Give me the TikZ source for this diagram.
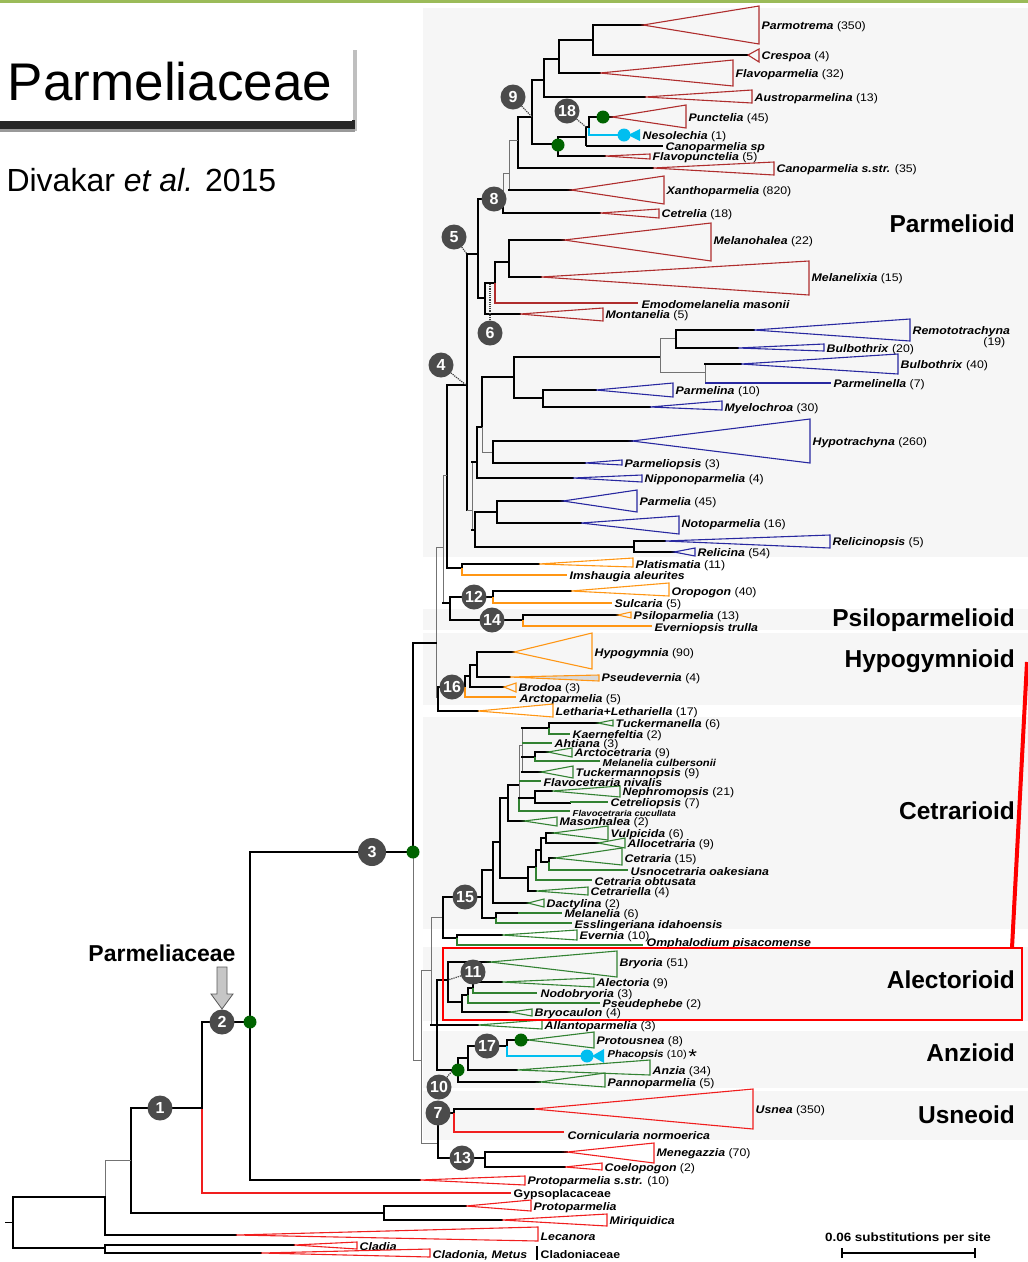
\documentclass[tikz,border=0pt]{standalone}
\usepackage{fontspec}
\setmainfont{Liberation Sans}
\newfontfamily\taxfont{Liberation Sans}[FakeStretch=1.12]

\definecolor{parmred}{RGB}{175,45,45}
\definecolor{usnred}{RGB}{240,30,30}
\definecolor{parmblue}{RGB}{40,40,160}
\definecolor{parmorange}{RGB}{255,150,20}
\definecolor{parmgreen}{RGB}{50,130,50}
\definecolor{dotgreen}{RGB}{0,100,0}
\definecolor{nescyan}{RGB}{0,190,240}
\definecolor{nodegray}{RGB}{75,75,75}
\definecolor{bandgray}{RGB}{246,246,246}
\definecolor{topline}{RGB}{155,187,89}

\tikzset{
  br/.style={line width=2.8pt, line cap=rect},
  thinbr/.style={line width=1pt, black!55},
  tri/.style={line width=1.1pt, line join=miter},
  tipl/.style={line width=1.1pt},
  lab/.style={anchor=west, inner sep=0.5pt, yshift=-2pt, font=\taxfont\fontsize{11}{12}\selectfont},
  smalllab/.style={lab, font=\taxfont\fontsize{10}{11}\selectfont},
  num/.style={circle, fill=nodegray, text=white, inner sep=0pt, minimum size=25pt, font=\bfseries\fontsize{16}{16}\selectfont},
  gdot/.style={circle, fill=dotgreen, inner sep=0pt, minimum size=13pt},
  cdot/.style={circle, fill=nescyan, inner sep=0pt, minimum size=13pt},
  grp/.style={anchor=east, inner sep=0pt, font=\bfseries\fontsize{24.5}{25}\selectfont},
  bandfill/.style={fill=bandgray},
  link/.style={densely dotted, line width=1.2pt, black!75}
}

\newcommand{\taxon}[1]{\textbf{\textit{#1}}}
% stem, triangle, label
\newcommand{\cladetri}[9]{%
  \draw[br] (#2,#5) -- (#3,#5);
  \draw[tri, draw=#1] (#3,#5) -- (#4,#6) -- (#4,#7) -- cycle;
  \node[lab] (#8) at ({#4+2},#5) {#9};}
% single tip
\newcommand{\tipline}[6]{%
  \draw[tipl, #1] (#2,#4) -- (#3,#4);
  \node[lab] (#5) at ({#3+2},#4) {#6};}

\begin{document}
\begin{tikzpicture}[x=1pt,y=-1pt]
\useasboundingbox (0,0) rectangle (1028,1262);
\fill[topline] (0,0) rectangle (1028,3);

	% bands
	\fill[bandfill] (423,8) rectangle (1028,557);
	\fill[bandfill] (423,609) rectangle (1028,630);
	\fill[bandfill] (423,633) rectangle (1028,705);
	\fill[bandfill] (423,717) rectangle (1028,929);
	\fill[bandfill] (423,947) rectangle (1028,1021);
	\fill[bandfill] (423,1031) rectangle (1028,1088);
	\fill[bandfill] (423,1091) rectangle (1028,1140);

	% title
	\fill[black!25] (353,50) rectangle (357,131);
	\fill[black!85] (0,120) rectangle (355,129);
	\fill[black!40] (0,129) rectangle (355,132);
	\fill[white] (0,45) rectangle (352,121);
	\node (title) at (170,82) {\fontsize{53}{53}\selectfont Parmeliaceae};
	\node[anchor=west] (ref) at (3,180) {\fontsize{32}{32}\selectfont Divakar \textit{et al.} 2015};

		% Parmelioid
		%-
	\draw[br] (593,25) -- (593,55);
	\draw[br] (559,40) -- (593,40);
	\draw[br] (559,40) -- (559,73);
	\draw[br] (544,59) -- (559,59);
	\draw[br] (544,59) -- (544,97);
	\draw[br] (532,80) -- (544,80);
	\draw[br] (532,80) -- (532,144);
	\draw[br] (518,117) -- (532,117);
	\draw[br] (518,117) -- (518,168);
	\draw[thinbr] (509,140) -- (518,140);
	\draw[thinbr] (509,140) -- (509,190);
	\draw[thinbr] (503,173) -- (509,173);
	\draw[thinbr] (503,173) -- (503,199);
	\draw[br] (503,199) -- (503,213);
	\draw[br] (478,199) -- (503,199);
	\draw[br] (478,199) -- (478,298);
	\draw[br] (467,254) -- (478,254);
	\cladetri{parmred}{593}{643}{759}{25}{6}{44}{parmotrema}{\taxon{Parmotrema} (350)}
	\cladetri{parmred}{593}{748}{759}{55}{49}{62}{crespoa}{\taxon{Crespoa} (4)}
	\cladetri{parmred}{559}{600}{733}{73}{60}{86}{flavoparmelia}{\taxon{Flavoparmelia} (32)}
	\cladetri{parmred}{544}{645}{752}{97}{90}{103}{austroparmelina}{\taxon{Austroparmelina} (13)}
	\draw[br] (532,144) -- (558,144);
	\draw[br] (558,137) -- (558,156);
	\draw[br] (558,137) -- (586,137);
	\draw[line width=1.3pt] (586,127) -- (586,146);
	\draw[br] (586,127) -- (589,127);
	\draw[br] (589,117) -- (589,128);
	\cladetri{parmred}{589}{612}{686}{117}{105}{128}{punctelia}{\taxon{Punctelia} (45)}
	\draw[nescyan, line width=2.4pt] (589,128) |- (624,135);
	\fill[nescyan] (628,135) -- (640,129) -- (640,141) -- cycle;
	\node[lab] (nesolechia) at (642,135) {\taxon{Nesolechia} (1)};
	\draw[line width=1.3pt] (586,146) -- (663,146);
	\node[lab] (canoparmeliasp) at (665,146) {\taxon{Canoparmelia sp}};
	\cladetri{parmred}{558}{605}{650}{156}{154}{159}{flavopunctelia}{\taxon{Flavopunctelia} (5)}
	\cladetri{parmred}{518}{653}{774}{168}{162}{175}{canoparmeliass}{\taxon{Canoparmelia s.str.} (35)}
	\cladetri{parmred}{509}{571}{664}{190}{176}{204}{xanthoparmelia}{\taxon{Xanthoparmelia} (820)}
	\cladetri{parmred}{503}{600}{659}{213}{209}{218}{cetrelia}{\taxon{Cetrelia} (18)}
	%-
	\draw[br] (478,298) -- (485,298);
	\draw[br] (485,283) -- (485,314);
	\draw[br] (485,283) -- (495,283);
	\draw[br] (495,262) -- (495,283);
	\draw[tipl, parmred] (495,283) |- (638,303);
	\node[lab] (emodomelanelia) at (641,303) {\taxon{Emodomelanelia masonii}};
	\draw[br] (495,262) -- (509,262);
	\draw[br] (509,240) -- (509,277);
	\cladetri{parmred}{509}{564}{711}{240}{223}{261}{melanohalea}{\taxon{Melanohalea} (22)}
	\cladetri{parmred}{509}{541}{809}{277}{261}{295}{melanelixia}{\taxon{Melanelixia} (15)}
	\cladetri{parmred}{485}{520}{603}{314}{308}{321}{montanelia}{\taxon{Montanelia} (5)}
	\draw[br] (467,254) -- (467,510);
	\draw[br] (447,385) -- (467,385);

		% blue
		%-
	\draw[thinbr] (467,510) -- (472,510);
	\draw[thinbr] (472,462) -- (472,530);
	\draw[br] (472,462) -- (477,462);
	\draw[br] (477,427) -- (477,478);
	\draw[br] (477,427) -- (482,427);
	\draw[br] (482,377) -- (482,427);
	\draw[thinbr] (482,427) -- (482,452);
	\draw[br] (482,377) -- (514,377);
	\draw[thinbr] (482,452) -- (493,452);
	\draw[br] (493,441) -- (493,463);
	\draw[br] (514,357) -- (514,398);
	\draw[br] (514,357) -- (660,357);
	\draw[thinbr] (660,338) -- (660,372);
	\draw[thinbr] (660,338) -- (676,338);
	\draw[br] (676,330) -- (676,348);
	\cladetri{parmblue}{676}{754}{910}{330}{319}{341}{remototrachyna}{\taxon{Remototrachyna}}
	\node[lab, anchor=east] (remonum) at (1006,341) {(19)};
	\cladetri{parmblue}{676}{738}{824}{348}{344}{351}{bulbothrixa}{\taxon{Bulbothrix} (20)}
	\draw[thinbr] (660,372) -- (705,372);
	\draw[thinbr] (705,364) -- (705,383);
	\cladetri{parmblue}{705}{741}{898}{364}{354}{374}{bulbothrixb}{\taxon{Bulbothrix} (40)}
	\tipline{parmblue}{705}{831}{383}{parmelinella}{\taxon{Parmelinella} (7)}
	\draw[br] (514,398) -- (543,398);
	\draw[br] (543,390) -- (543,407);
	\cladetri{parmblue}{543}{596}{673}{390}{383}{397}{parmelina}{\taxon{Parmelina} (10)}
	\cladetri{parmblue}{543}{650}{722}{407}{401}{410}{myelochroa}{\taxon{Myelochroa} (30)}
	\cladetri{parmblue}{493}{632}{810}{441}{419}{463}{hypotrachyna}{\taxon{Hypotrachyna} (260)}
	\cladetri{parmblue}{493}{585}{622}{463}{460}{465}{parmeliopsis}{\taxon{Parmeliopsis} (3)}
	\cladetri{parmblue}{477}{573}{642}{478}{475}{482}{nipponoparmelia}{\taxon{Nipponoparmelia} (4)}
	\draw[br] (472,530) -- (475,530);
	\draw[br] (475,512) -- (475,547);
	\draw[br] (475,512) -- (497,512);
	\draw[br] (497,501) -- (497,523);
	\cladetri{parmblue}{497}{563}{637}{501}{490}{512}{parmelia}{\taxon{Parmelia} (45)}
	\cladetri{parmblue}{497}{581}{679}{523}{516}{534}{notoparmelia}{\taxon{Notoparmelia} (16)}
	\draw[br] (475,547) -- (634,547);
	\draw[br] (634,541) -- (634,552);
	\cladetri{parmblue}{634}{665}{830}{541}{535}{548}{relicinopsis}{\taxon{Relicinopsis} (5)}
	\cladetri{parmblue}{634}{674}{695}{552}{548}{556}{relicina}{\taxon{Relicina} (54)}

		% orange
		%-
	\draw[br] (447,385) -- (447,568);
	\draw[br] (447,568) -- (462,568);
	\draw[br] (462,564) -- (462,568);
	\cladetri{parmorange}{462}{539}{633}{564}{558}{567}{platismatia}{\taxon{Platismatia} (11)}
	\draw[tipl, parmorange] (462,568) |- (567,575);
	\node[lab] (imshaugia) at (569,575) {\taxon{Imshaugia aleurites}};
	\draw[thinbr] (443,475) -- (447,475);
	\draw[thinbr] (443,475) -- (443,603);
	\draw[thinbr] (436,547) -- (443,547);
	\draw[br] (443,603) -- (450,603);
	\draw[br] (450,597) -- (450,620);
	\draw[br] (450,597) -- (493,597);
	\draw[br] (493,591) -- (493,597);
	\cladetri{parmorange}{493}{571}{669}{591}{583}{596}{oropogon}{\taxon{Oropogon} (40)}
	\draw[tipl, parmorange] (493,597) |- (612,603);
	\node[lab] (sulcaria) at (614,603) {\taxon{Sulcaria} (5)};
	\draw[br] (450,620) -- (523,620);
	\draw[br] (523,615) -- (523,620);
	\cladetri{parmorange}{523}{618}{631}{615}{612}{618}{psiloparmelia}{\taxon{Psiloparmelia} (13)}
	\draw[tipl, parmorange] (523,620) |- (652,626);
	\node[lab] (everniopsis) at (654,627) {\taxon{Everniopsis trulla}};
	% |
	\draw[thinbr] (436,547) -- (436,697);
	\draw[br] (413,643) -- (436,643);
	\draw[br] (413,643) -- (413,852);
	\draw[thinbr] (436,697) -- (438,697);
	\draw[br] (438,687) -- (438,711);
	\draw[br] (438,687) -- (465,687);
	\draw[br] (465,676) -- (465,687);
	\draw[tipl, parmorange] (465,687) |- (516,697);
	\node[lab] (arctoparmelia) at (519,698) {\taxon{Arctoparmelia} (5)};
	\draw[br] (465,676) -- (470,676);
	\draw[br] (470,665) -- (470,687);
	\draw[br] (470,665) -- (477,665);
	\draw[br] (477,652) -- (477,677);
	\cladetri{parmorange}{477}{514}{592}{652}{633}{669}{hypogymnia}{\taxon{Hypogymnia} (90)}
	\fill[black!15] (510,677) -- (599,675) -- (599,681) -- cycle;
	\cladetri{parmorange}{477}{510}{599}{677}{675}{681}{pseudevernia}{\taxon{Pseudevernia} (4)}
	\cladetri{parmorange}{470}{504}{516}{687}{683}{692}{brodoa}{\taxon{Brodoa} (3)}
	\cladetri{parmorange}{438}{478}{553}{711}{704}{717}{letharia}{\taxon{Letharia+Lethariella} (17)}

		% node 3
		%-
	\draw[br] (250,852) -- (413,852);
	\draw[thinbr] (413,852) -- (413,1060);
	\draw[thinbr] (413,1060) -- (421,1060);
	\draw[thinbr] (421,970) -- (421,1143);
	\draw[thinbr] (421,970) -- (431,970);
	\draw[thinbr] (431,917) -- (431,1025);
	\draw[thinbr] (431,917) -- (443,917);
	\draw[br] (443,897) -- (443,938);

		% green
		%-
	\draw[br] (443,897) -- (482,897);
	\draw[br] (482,870) -- (482,918);
	\draw[br] (482,918) -- (496,918);
	\draw[br] (496,913) -- (496,918);
	\draw[br] (496,913) -- (518,913);
	\tipline{parmgreen}{518}{562}{913}{melanelia}{\taxon{Melanelia} (6)}
	\draw[tipl, parmgreen] (496,918) |- (572,923);
	\node[lab] (esslingeriana) at (574,924) {\taxon{Esslingeriana idahoensis}};
	\draw[br] (482,870) -- (493,870);
	\draw[br] (493,842) -- (493,903);
	\cladetri{parmgreen}{493}{528}{544}{903}{899}{907}{dactylina}{\taxon{Dactylina} (2)}
	\draw[br] (493,842) -- (500,842);
	\draw[br] (500,798) -- (500,878);
	\draw[br] (500,878) -- (528,878);
	\draw[br] (528,867) -- (528,891);
	\cladetri{parmgreen}{528}{536}{588}{891}{887}{895}{cetrariella}{\taxon{Cetrariella} (4)}
	\draw[br] (528,867) -- (536,867);
	\draw[br] (536,850) -- (536,867);
	\draw[tipl, parmgreen] (536,867) |- (592,880);
	\node[lab] (cetrariaob) at (594,880) {\taxon{Cetraria obtusata}};
	\draw[br] (536,850) -- (541,850);
	\draw[br] (541,838) -- (541,862);
	\draw[br] (541,838) -- (546,838);
	\draw[br] (546,833) -- (546,843);
	\cladetri{parmgreen}{546}{553}{608}{833}{826}{840}{vulpicida}{\taxon{Vulpicida} (6)}
	\cladetri{parmgreen}{546}{598}{625}{843}{838}{848}{allocetraria}{\taxon{Allocetraria} (9)}
	\draw[br] (541,862) -- (549,862);
	\draw[br] (549,858) -- (549,862);
	\cladetri{parmgreen}{549}{555}{622}{858}{848}{865}{cetraria}{\taxon{Cetraria} (15)}
	\draw[tipl, parmgreen] (549,862) |- (628,870);
	\node[lab] (usnocetraria) at (630,870) {\taxon{Usnocetraria oakesiana}};
	%-
	\draw[br] (500,798) -- (508,798);
	\draw[br] (508,785) -- (508,820);
	\cladetri{parmgreen}{508}{524}{557}{821}{817}{826}{masonhalea}{\taxon{Masonhalea} (2)}
	\draw[br] (508,785) -- (519,785);
	\draw[thinbr] (519,745) -- (519,798);
	\draw[tipl, parmgreen] (519,798) |- (570,811);
	\node[lab, font=\taxfont\fontsize{8.5}{9}\selectfont] (flavocucullata) at (572,811) {\taxon{Flavocetraria cucullata}};
	\draw[br] (519,798) -- (535,798);
	\draw[br] (535,791) -- (535,803);
	\cladetri{parmgreen}{535}{552}{620}{791}{786}{797}{nephromopsis}{\taxon{Nephromopsis} (21)}
	\draw[br] (535,803) -- (570,803);
	\tipline{parmgreen}{570}{608}{802}{cetreliopsis}{\taxon{Cetreliopsis} (7)}
	\tipline{parmgreen}{519}{541}{781}{flavonivalis}{\taxon{Flavocetraria nivalis}}
	\draw[thinbr] (519,745) -- (522,745);
	\draw[thinbr] (522,728) -- (522,771);
	\draw[br] (522,728) -- (549,728);
	\draw[br] (549,723) -- (549,728);
	\cladetri{parmgreen}{549}{598}{613}{723}{720}{726}{tuckermanella}{\taxon{Tuckermanella} (6)}
	\draw[tipl, parmgreen] (549,728) |- (570,734);
	\node[lab] (kaernefeltia) at (572,734) {\taxon{Kaernefeltia} (2)};
	\tipline{parmgreen}{522}{552}{743}{ahtiana}{\taxon{Ahtiana} (3)}
	\draw[br] (522,757) -- (535,757);
	\draw[br] (535,753) -- (535,757);
	\cladetri{parmgreen}{535}{548}{572}{752}{748}{757}{arctocetraria}{\taxon{Arctocetraria} (9)}
	\draw[tipl, parmgreen] (535,757) |- (600,761);
	\node[smalllab] (melculbersonii) at (602,761) {\taxon{Melanelia culbersonii}};
	\cladetri{parmgreen}{522}{541}{573}{772}{766}{778}{tuckermannopsis}{\taxon{Tuckermannopsis} (9)}
	%-
	\draw[br] (443,938) -- (457,938);
	\draw[br] (457,935) -- (457,938);
	\cladetri{parmgreen}{457}{502}{577}{935}{930}{940}{evernia}{\taxon{Evernia} (10)}
	\draw[parmgreen, line width=1.8pt] (457,938) |- (643,945);
	\node[lab] (omphalodium) at (646,942) {\taxon{Omphalodium pisacomense}};

		% Alectorioid
		%-
	\draw[br] (437,980) -- (437,1070);
	\draw[br] (431,1025) -- (437,1025);
	\draw[br] (437,980) -- (448,980);
	\draw[br] (448,962) -- (448,1002);
	\cladetri{parmgreen}{448}{490}{617}{962}{951}{977}{bryoria}{\taxon{Bryoria} (51)}
	\draw[br] (448,1002) -- (462,1002);
	\draw[br] (462,995) -- (462,1012);
	\cladetri{parmgreen}{462}{510}{532}{1012}{1009}{1016}{bryocaulon}{\taxon{Bryocaulon} (4)}
	\draw[br] (462,995) -- (468,995);
	\draw[br] (468,988) -- (468,995);
	\draw[tipl, parmgreen] (468,995) |- (600,1003);
	\node[lab] (pseudephebe) at (602,1003) {\taxon{Pseudephebe} (2)};
	\draw[br] (468,988) -- (473,988);
	\draw[br] (473,982) -- (473,988);
	\cladetri{parmgreen}{473}{502}{594}{982}{978}{987}{alectoria}{\taxon{Alectoria} (9)}
	\draw[tipl, parmgreen] (473,988) |- (537,993);
	\node[lab] (nodobryoria) at (540,993) {\taxon{Nodobryoria} (3)};
	\cladetri{parmgreen}{437}{478}{542}{1025}{1020}{1029}{allantoparmelia}{\taxon{Allantoparmelia} (3)}

		% Anzioid
		%-
	\draw[br] (437,1070) -- (458,1070);
	\draw[br] (458,1058) -- (458,1082);
	\draw[br] (458,1058) -- (468,1058);
	\draw[br] (468,1046) -- (468,1070);
	\draw[br] (468,1046) -- (507,1046);
	\draw[br] (507,1040) -- (507,1046);
	\cladetri{parmgreen}{507}{528}{594}{1040}{1032}{1048}{protousnea}{\taxon{Protousnea} (8)}
	\draw[nescyan, line width=2.4pt] (507,1046) |- (587,1056);
	\fill[nescyan] (592,1056) -- (604,1049) -- (604,1063) -- cycle;
	\node[smalllab] (phacopsis) at (607,1055) {\taxon{Phacopsis} (10)\,{\fontsize{20}{20}\selectfont\raisebox{-0.3em}{*}}};
	\cladetri{parmgreen}{468}{517}{650}{1070}{1060}{1075}{anzia}{\taxon{Anzia} (34)}
	\cladetri{parmgreen}{458}{540}{605}{1082}{1073}{1087}{pannoparmelia}{\taxon{Pannoparmelia} (5)}

		% Usneoid
		%-
	\draw[thinbr] (421,1143) -- (438,1143);
	\draw[br] (438,1113) -- (438,1158);
	\draw[br] (438,1113) -- (454,1113);
	\draw[br] (454,1109) -- (454,1113);
	\cladetri{usnred}{454}{534}{753}{1109}{1089}{1129}{usnea}{\taxon{Usnea} (350)}
	\draw[tipl, usnred] (454,1113) |- (564,1132);
	\node[lab] (cornicularia) at (567,1134) {\taxon{Cornicularia normoerica}};
	\draw[br] (438,1158) -- (485,1158);
	\draw[br] (485,1152) -- (485,1167);
	\cladetri{usnred}{485}{567}{654}{1152}{1143}{1163}{menegazzia}{\taxon{Menegazzia} (70)}
	\cladetri{usnred}{485}{565}{602}{1167}{1163}{1170}{coelopogon}{\taxon{Coelopogon} (2)}

		% outgroups
		%-
	\draw[br] (250,852) -- (250,1180);
	\draw[br] (202,1022) -- (250,1022);
	\cladetri{usnred}{250}{420}{525}{1180}{1176}{1185}{protoparmeliass}{\taxon{Protoparmelia s.str.} (10)}
	\draw[br] (202,1022) -- (202,1108);
	\draw[tipl, usnred] (202,1108) |- (511,1193);
	\node[lab] (gypsoplacaceae) at (513,1193) {\textbf{Gypsoplacaceae}};
	\draw[br] (131,1108) -- (202,1108);
	\draw[br] (131,1108) -- (131,1213);
	\draw[br] (131,1213) -- (384,1213);
	\draw[br] (384,1206) -- (384,1220);
	\cladetri{usnred}{384}{466}{531}{1206}{1200}{1211}{protoparmelia}{\taxon{Protoparmelia}}
	\cladetri{usnred}{384}{502}{607}{1220}{1214}{1226}{miriquidica}{\taxon{Miriquidica}}
	\draw[thinbr] (105,1160) -- (131,1160);
	\draw[thinbr] (105,1160) -- (105,1197);
	\draw[br] (105,1197) -- (105,1235);
	\cladetri{usnred}{105}{236}{538}{1235}{1227}{1241}{lecanora}{\taxon{Lecanora}}
	\draw[br] (13,1197) -- (105,1197);
	\draw[br] (13,1197) -- (13,1248);
	\draw[br] (13,1248) -- (105,1248);
	\draw[br] (105,1245) -- (105,1253);
	\cladetri{usnred}{105}{294}{357}{1245}{1242}{1249}{cladia}{\taxon{Cladia}}
	\cladetri{usnred}{105}{261}{430}{1253}{1249}{1257}{cladonia}{\taxon{Cladonia, Metus}}
	\draw[thinbr, black] (5,1222) -- (13,1222);
	\draw[line width=2.5pt] (537,1246) -- (537,1260);
	\node[lab] (cladoniaceae) at (540,1253) {\textbf{Cladoniaceae}};

	% scale
	\node[font=\taxfont\bfseries\fontsize{12}{12}\selectfont] (scalelab) at (908,1238) {0.06 substitutions per site};
	\draw[line width=1.5pt] (842,1253) -- (975,1253);
	\draw[line width=1.5pt] (842,1248) -- (842,1258);
	\draw[line width=1.5pt] (975,1248) -- (975,1258);

	% dots
	\node[gdot] (g1) at (603,117) {};
	\node[gdot] (g2) at (558,145) {};
	\node[gdot] (g3) at (413,852) {};
	\node[gdot] (g4) at (250,1022) {};
	\node[gdot] (g5) at (458,1070) {};
	\node[gdot] (g6) at (521,1040) {};
	\node[cdot] (c1) at (624,135) {};
	\node[cdot] (c2) at (587,1056) {};

	% label
	\node[num] (n1) at (160,1108) {1};
	\node[num] (n2) at (222,1022) {2};
	\node[num, minimum width=28pt] (n3) at (372,852) {3};
	\node[num] (n4) at (441,365) {4};
	\node[num] (n5) at (454,237) {5};
	\node[num] (n6) at (490,333) {6};
	\node[num] (n7) at (438,1113) {7};
	\node[num] (n8) at (494,199) {8};
	\node[num] (n9) at (513,97) {9};
	\node[num] (n10) at (439,1087) {10};
	\node[num] (n11) at (473,972) {11};
	\node[num] (n12) at (474,597) {12};
	\node[num] (n13) at (462,1158) {13};
	\node[num] (n14) at (492,620) {14};
	\node[num] (n15) at (465,897) {15};
	\node[num] (n16) at (452,687) {16};
	\node[num] (n17) at (487,1046) {17};
	\node[num] (n18) at (567,111) {18};

	\coordinate (k4) at (466,385);
	\coordinate (k5) at (467,254);
	\coordinate (k6) at (490,283);
	\coordinate (k9) at (532,117);
	\coordinate (k10) at (452,1071);
	\coordinate (k11) at (448,980);
	\coordinate (k18) at (586,127);
	\draw[link] (n4) -- (k4);
	\draw[link] (n5) -- (k5);
	\draw[link] (n6) -- (k6);
	\draw[link] (n9) -- (k9);
	\draw[link] (n10) -- (k10);
	\draw[link] (n11) -- (k11);
	\draw[link] (n18) -- (k18);

	% groups
	\node[grp] (parmelioid) at (1015,224) {Parmelioid};
	\node[grp] (psiloparmelioid) at (1015,620) {Psiloparmelioid};
	\node[grp] (hypogymnioid) at (1015,661) {Hypogymnioid};
	\node[grp] (cetrarioid) at (1015,811) {Cetrarioid};
	\node[grp] (alectorioid) at (1015,980) {Alectorioid};
	\node[grp] (anzioid) at (1015,1053) {Anzioid};
	\node[grp] (usneoid) at (1015,1115) {Usneoid};
	\draw[red, line width=2.5pt] (443,948) rectangle (1022,1020);
	\draw[red, line width=4pt] (1012,948) -- (1027,662);

	% Parmeliaceae arrow
	\node[font=\bfseries\fontsize{23}{23}\selectfont] (parmlab) at (162,953) {Parmeliaceae};
	\fill[gray!45, draw=black!65, line width=0.8pt] (217,967) -- (227,967) -- (227,994) -- (233,994) -- (222,1009) -- (211,994) -- (217,994) -- cycle;
\end{tikzpicture}
\end{document}
